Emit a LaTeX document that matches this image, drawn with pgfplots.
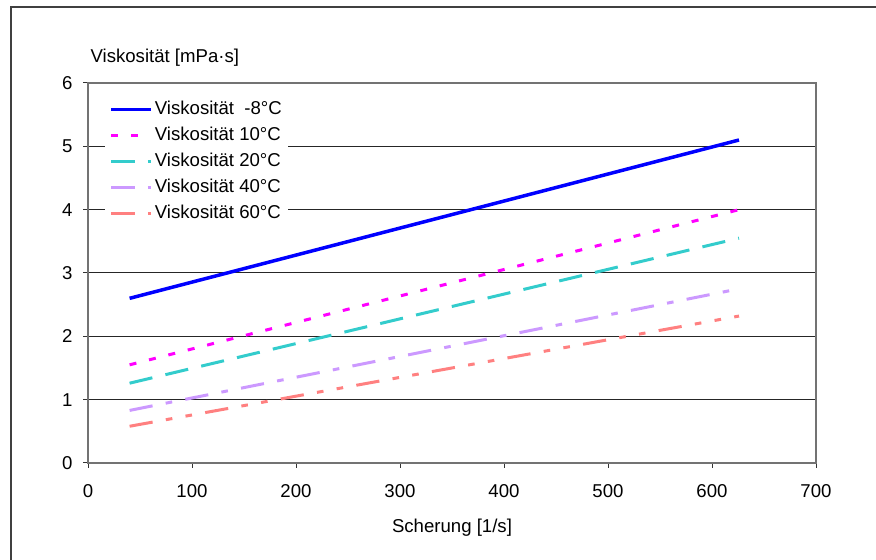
\documentclass[border=0pt]{standalone}
\usepackage{pgfplots}
\pgfplotsset{compat=1.18}
\usepackage{fontspec}
\setmainfont{Liberation Sans}
\definecolor{vblue}{RGB}{0,0,255}
\definecolor{vmag}{RGB}{255,0,255}
\definecolor{vcyan}{RGB}{51,204,204}
\definecolor{vlav}{RGB}{204,153,255}
\definecolor{vsalmon}{RGB}{255,128,128}
\begin{document}
\fontsize{9.3}{11}\selectfont
\begin{tikzpicture}
\useasboundingbox (0,0) rectangle (438pt,280pt);
\draw[black!75, line width=0.7pt] (5.5pt,0) -- (5.5pt,276.5pt) -- (438pt,276.5pt);
\begin{axis}[
    at={(44pt,48.5pt)}, anchor=south west,
    scale only axis, width=364pt, height=190pt,
    xmin=0, xmax=700, ymin=0, ymax=6,
    clip=false,
    xtick={0,100,...,700}, ytick={0,1,...,6},
    ymajorgrids, grid style={black!85, line width=0.5pt},
    axis line style={black!55, line width=0.7pt},
    tick align=outside, major tick length=2.5pt,
    tick style={black!80, line width=0.5pt},
    xtick pos=lower, ytick pos=left,
    yticklabel style={xshift=-2pt},
    xticklabel style={yshift=-5pt},
    /pgf/number format/assume math mode=true,
    ticklabel style={font=\fontsize{9.3}{11}\selectfont},
    legend style={at={(axis description cs:0.0233,0.971)}, anchor=north west,
        draw=none, fill=white, inner sep=2pt, row sep=2pt,
        nodes={inner sep=1pt, text height=7pt, text depth=2pt},
        font=\fontsize{9.3}{11}\selectfont},
    legend cell align=left,
    legend image code/.code={\draw[#1] (0pt,0pt) -- (20pt,0pt);},
    line cap=butt,
]
\addplot[vblue, line width=1.75pt] coordinates {(40,2.60) (626,5.10)};
\addlegendentry{Viskosität\ \ -8°C}
\addplot[vmag, line width=1.5pt, dash pattern=on 3.5pt off 6.5pt] coordinates {(40,1.55) (626,4.00)};
\addlegendentry{Viskosität 10°C}
\addplot[vcyan, line width=1.5pt, dash pattern=on 11.7pt off 6.7pt] coordinates {(40,1.26) (626,3.55)};
\addlegendentry{Viskosität 20°C}
\addplot[vlav, line width=1.5pt, dash pattern=on 11.7pt off 6.7pt on 3.3pt off 6.7pt] coordinates {(40,0.83) (626,2.75)};
\addlegendentry{Viskosität 40°C}
\addplot[vsalmon, line width=1.5pt, dash pattern=on 11.7pt off 6.7pt on 3.3pt off 6.7pt on 3.3pt off 6.7pt] coordinates {(40,0.58) (626,2.32)};
\addlegendentry{Viskosität 60°C}
\node[anchor=base west, inner sep=0pt] at (axis description cs:0.003,1.053) {Viskosität [mPa·s]};
\node[anchor=center, inner sep=0pt] at (axis description cs:0.5,-0.171) {Scherung [1/s]};
\end{axis}
\end{tikzpicture}
\end{document}
